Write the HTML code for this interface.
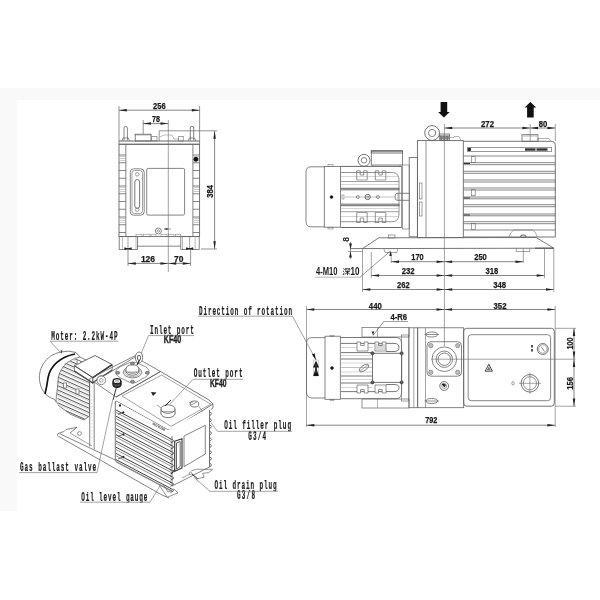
<!DOCTYPE html>
<html><head><meta charset="utf-8"><style>
html,body{margin:0;padding:0;background:#fff;width:600px;height:600px;overflow:hidden}
svg{display:block;will-change:transform}
</style></head><body>
<svg width="600" height="600" viewBox="0 0 600 600">
<rect x="0" y="88" width="600" height="12" fill="#f9f9f9"/>
<rect x="0" y="88" width="17" height="423" fill="#f9f9f9"/>
<line x1="119.00" y1="106.00" x2="119.00" y2="141.00" stroke="#666" stroke-width="0.7" />
<line x1="199.60" y1="106.00" x2="199.60" y2="141.00" stroke="#666" stroke-width="0.7" />
<line x1="119.00" y1="110.20" x2="199.60" y2="110.20" stroke="#666" stroke-width="0.8" />
<polygon points="119.00,110.20 126.80,108.95 126.80,111.45" fill="#222" stroke="none"/>
<polygon points="199.60,110.20 191.80,108.95 191.80,111.45" fill="#222" stroke="none"/>
<text x="159.40" y="109.00" font-family="Liberation Sans" font-size="9.3" fill="#1a1a1a" text-anchor="middle" textLength="12.6" lengthAdjust="spacingAndGlyphs" font-weight="bold" stroke="#1a1a1a" stroke-width="0.25" >256</text>
<line x1="143.20" y1="120.00" x2="143.20" y2="134.00" stroke="#666" stroke-width="0.7" />
<line x1="168.30" y1="120.00" x2="168.30" y2="272.00" stroke="#666" stroke-width="0.6" />
<line x1="143.20" y1="123.60" x2="168.30" y2="123.60" stroke="#666" stroke-width="0.8" />
<polygon points="143.20,123.60 151.00,122.35 151.00,124.85" fill="#222" stroke="none"/>
<polygon points="168.30,123.60 160.50,122.35 160.50,124.85" fill="#222" stroke="none"/>
<text x="156.00" y="122.40" font-family="Liberation Sans" font-size="9.3" fill="#1a1a1a" text-anchor="middle" textLength="8" lengthAdjust="spacingAndGlyphs" font-weight="bold" stroke="#1a1a1a" stroke-width="0.25" >78</text>
<line x1="201.00" y1="249.00" x2="217.00" y2="249.00" stroke="#666" stroke-width="0.7" />
<line x1="214.60" y1="131.00" x2="214.60" y2="249.00" stroke="#666" stroke-width="0.8" />
<polygon points="214.60,131.00 213.35,138.80 215.85,138.80" fill="#222" stroke="none"/>
<polygon points="214.60,249.00 213.35,241.20 215.85,241.20" fill="#222" stroke="none"/>
<text x="213.40" y="191.40" font-family="Liberation Sans" font-size="9.3" fill="#1a1a1a" text-anchor="middle" textLength="12.8" lengthAdjust="spacingAndGlyphs" font-weight="bold" stroke="#1a1a1a" stroke-width="0.25" transform="rotate(-90 213.40 191.40)">384</text>
<path d="M124.0,140.5 L124.0,128 A1.7,1.7 0 0 1 127.4,128 L127.4,140.5" fill="none" stroke="#666" stroke-width="0.8"/>
<polyline points="121.90,141.00 123.10,138.00 128.30,138.00 129.50,141.00" fill="none" stroke="#666" stroke-width="0.7"/>
<path d="M190.3,140.5 L190.3,128 A1.7,1.7 0 0 1 193.7,128 L193.7,140.5" fill="none" stroke="#666" stroke-width="0.8"/>
<polyline points="188.20,141.00 189.40,138.00 194.60,138.00 195.80,141.00" fill="none" stroke="#666" stroke-width="0.7"/>
<rect x="135.20" y="134.20" width="15.80" height="6.80" rx="0" fill="none" stroke="#666" stroke-width="0.8"/>
<line x1="134.50" y1="134.90" x2="151.70" y2="134.90" stroke="#666" stroke-width="0.6" />
<rect x="151.70" y="136.50" width="5.30" height="4.50" rx="0" fill="none" stroke="#666" stroke-width="0.6"/>
<line x1="159.20" y1="141.00" x2="159.20" y2="130.80" stroke="#666" stroke-width="0.7" />
<line x1="159.20" y1="130.80" x2="217.00" y2="130.80" stroke="#666" stroke-width="0.7" />
<polyline points="160.00,137.00 164.00,135.00 172.00,135.00 174.00,139.00 178.70,139.00" fill="none" stroke="#777" stroke-width="0.5"/>
<rect x="178.70" y="136.50" width="4.50" height="4.50" rx="0" fill="none" stroke="#666" stroke-width="0.6"/>
<line x1="119.00" y1="141.00" x2="199.60" y2="141.00" stroke="#666" stroke-width="1.1" />
<line x1="119.00" y1="144.20" x2="199.60" y2="144.20" stroke="#555" stroke-width="0.8" />
<line x1="119.00" y1="141.00" x2="119.00" y2="144.20" stroke="#666" stroke-width="0.8" />
<line x1="199.60" y1="141.00" x2="199.60" y2="144.20" stroke="#666" stroke-width="0.8" />
<rect x="119.00" y="144.30" width="80.60" height="92.30" rx="0" fill="none" stroke="#666" stroke-width="0.9"/>
<line x1="125.80" y1="144.30" x2="125.80" y2="236.60" stroke="#666" stroke-width="0.8" />
<line x1="192.90" y1="144.30" x2="192.90" y2="236.60" stroke="#666" stroke-width="0.8" />
<line x1="119.00" y1="155.00" x2="125.80" y2="155.00" stroke="#666" stroke-width="0.8" />
<line x1="192.90" y1="155.00" x2="199.60" y2="155.00" stroke="#666" stroke-width="0.8" />
<line x1="119.00" y1="162.75" x2="125.80" y2="162.75" stroke="#666" stroke-width="0.8" />
<line x1="192.90" y1="162.75" x2="199.60" y2="162.75" stroke="#666" stroke-width="0.8" />
<line x1="119.00" y1="170.50" x2="125.80" y2="170.50" stroke="#666" stroke-width="0.8" />
<line x1="192.90" y1="170.50" x2="199.60" y2="170.50" stroke="#666" stroke-width="0.8" />
<line x1="119.00" y1="178.25" x2="125.80" y2="178.25" stroke="#666" stroke-width="0.8" />
<line x1="192.90" y1="178.25" x2="199.60" y2="178.25" stroke="#666" stroke-width="0.8" />
<line x1="119.00" y1="186.00" x2="125.80" y2="186.00" stroke="#666" stroke-width="0.8" />
<line x1="192.90" y1="186.00" x2="199.60" y2="186.00" stroke="#666" stroke-width="0.8" />
<line x1="119.00" y1="193.75" x2="125.80" y2="193.75" stroke="#666" stroke-width="0.8" />
<line x1="192.90" y1="193.75" x2="199.60" y2="193.75" stroke="#666" stroke-width="0.8" />
<line x1="119.00" y1="201.50" x2="125.80" y2="201.50" stroke="#666" stroke-width="0.8" />
<line x1="192.90" y1="201.50" x2="199.60" y2="201.50" stroke="#666" stroke-width="0.8" />
<line x1="119.00" y1="209.25" x2="125.80" y2="209.25" stroke="#666" stroke-width="0.8" />
<line x1="192.90" y1="209.25" x2="199.60" y2="209.25" stroke="#666" stroke-width="0.8" />
<line x1="119.00" y1="217.00" x2="125.80" y2="217.00" stroke="#666" stroke-width="0.8" />
<line x1="192.90" y1="217.00" x2="199.60" y2="217.00" stroke="#666" stroke-width="0.8" />
<line x1="119.00" y1="224.75" x2="125.80" y2="224.75" stroke="#666" stroke-width="0.8" />
<line x1="192.90" y1="224.75" x2="199.60" y2="224.75" stroke="#666" stroke-width="0.8" />
<line x1="119.00" y1="232.50" x2="125.80" y2="232.50" stroke="#666" stroke-width="0.8" />
<line x1="192.90" y1="232.50" x2="199.60" y2="232.50" stroke="#666" stroke-width="0.8" />
<line x1="120.00" y1="156.50" x2="125.00" y2="156.50" stroke="#999" stroke-width="0.5" />
<line x1="194.00" y1="156.50" x2="199.00" y2="156.50" stroke="#999" stroke-width="0.5" />
<line x1="120.00" y1="158.50" x2="125.00" y2="158.50" stroke="#999" stroke-width="0.5" />
<line x1="194.00" y1="158.50" x2="199.00" y2="158.50" stroke="#999" stroke-width="0.5" />
<line x1="120.00" y1="160.50" x2="125.00" y2="160.50" stroke="#999" stroke-width="0.5" />
<line x1="194.00" y1="160.50" x2="199.00" y2="160.50" stroke="#999" stroke-width="0.5" />
<line x1="120.00" y1="187.50" x2="125.00" y2="187.50" stroke="#999" stroke-width="0.5" />
<line x1="194.00" y1="187.50" x2="199.00" y2="187.50" stroke="#999" stroke-width="0.5" />
<line x1="120.00" y1="189.50" x2="125.00" y2="189.50" stroke="#999" stroke-width="0.5" />
<line x1="194.00" y1="189.50" x2="199.00" y2="189.50" stroke="#999" stroke-width="0.5" />
<line x1="120.00" y1="191.50" x2="125.00" y2="191.50" stroke="#999" stroke-width="0.5" />
<line x1="194.00" y1="191.50" x2="199.00" y2="191.50" stroke="#999" stroke-width="0.5" />
<line x1="120.00" y1="218.50" x2="125.00" y2="218.50" stroke="#999" stroke-width="0.5" />
<line x1="194.00" y1="218.50" x2="199.00" y2="218.50" stroke="#999" stroke-width="0.5" />
<line x1="120.00" y1="220.50" x2="125.00" y2="220.50" stroke="#999" stroke-width="0.5" />
<line x1="194.00" y1="220.50" x2="199.00" y2="220.50" stroke="#999" stroke-width="0.5" />
<line x1="120.00" y1="222.50" x2="125.00" y2="222.50" stroke="#999" stroke-width="0.5" />
<line x1="194.00" y1="222.50" x2="199.00" y2="222.50" stroke="#999" stroke-width="0.5" />
<circle cx="195.90" cy="159.30" r="2.20" fill="#111" stroke="#111" stroke-width="0.5"/>
<rect x="130.30" y="168.80" width="13.90" height="46.40" rx="3.5" fill="none" stroke="#666" stroke-width="0.8"/>
<rect x="132.00" y="170.50" width="10.50" height="43.00" rx="2.8" fill="none" stroke="#666" stroke-width="0.6"/>
<circle cx="137.20" cy="174.30" r="1.80" fill="none" stroke="#666" stroke-width="0.6"/>
<circle cx="137.20" cy="209.70" r="1.80" fill="none" stroke="#666" stroke-width="0.6"/>
<path d="M134.8,196 L134.8,182 A2.4,2.4 0 0 1 139.6,182 L139.6,206 A2.4,2.4 0 0 1 134.8,206 Z" fill="none" stroke="#666" stroke-width="0.9"/>
<rect x="146.70" y="168.40" width="37.90" height="46.70" rx="1.5" fill="none" stroke="#666" stroke-width="0.8"/>
<circle cx="158.40" cy="231.00" r="3.00" fill="none" stroke="#666" stroke-width="0.8"/>
<circle cx="158.40" cy="231.00" r="1.20" fill="none" stroke="#666" stroke-width="0.6"/>
<line x1="164.00" y1="229.00" x2="171.00" y2="229.00" stroke="#666" stroke-width="0.6" />
<polygon points="164.00,229.00 167.50,227.90 167.50,230.10" fill="#222" stroke="none"/>
<rect x="136.00" y="234.20" width="6.00" height="2.40" rx="0" fill="none" stroke="#777" stroke-width="0.5"/>
<rect x="143.50" y="234.20" width="6.50" height="2.40" rx="0" fill="none" stroke="#777" stroke-width="0.5"/>
<rect x="151.00" y="234.20" width="5.00" height="2.40" rx="0" fill="none" stroke="#777" stroke-width="0.5"/>
<rect x="161.00" y="234.20" width="6.00" height="2.40" rx="0" fill="none" stroke="#777" stroke-width="0.5"/>
<rect x="168.50" y="234.20" width="5.50" height="2.40" rx="0" fill="none" stroke="#777" stroke-width="0.5"/>
<rect x="175.50" y="234.20" width="5.30" height="2.40" rx="0" fill="none" stroke="#777" stroke-width="0.5"/>
<rect x="119.20" y="236.60" width="18.40" height="12.80" rx="0" fill="none" stroke="#666" stroke-width="0.8"/>
<rect x="180.80" y="236.60" width="18.40" height="12.80" rx="0" fill="none" stroke="#666" stroke-width="0.8"/>
<line x1="137.60" y1="246.20" x2="180.80" y2="246.20" stroke="#666" stroke-width="0.8" />
<line x1="122.40" y1="236.60" x2="122.40" y2="249.40" stroke="#777" stroke-width="0.5" />
<line x1="136.00" y1="236.60" x2="136.00" y2="249.40" stroke="#777" stroke-width="0.5" />
<line x1="182.50" y1="236.60" x2="182.50" y2="249.40" stroke="#777" stroke-width="0.5" />
<line x1="195.20" y1="236.60" x2="195.20" y2="249.40" stroke="#777" stroke-width="0.5" />
<line x1="128.00" y1="236.60" x2="128.00" y2="249.40" stroke="#666" stroke-width="0.6" />
<line x1="189.60" y1="236.60" x2="189.60" y2="249.40" stroke="#666" stroke-width="0.6" />
<polygon points="128.00,248.60 124.50,247.30 124.50,249.90" fill="#222" stroke="none"/>
<polygon points="128.00,248.60 131.50,247.30 131.50,249.90" fill="#222" stroke="none"/>
<line x1="124.50" y1="248.60" x2="131.50" y2="248.60" stroke="#222" stroke-width="1.0" />
<line x1="186.00" y1="248.60" x2="193.20" y2="248.60" stroke="#222" stroke-width="1.0" />
<polygon points="189.60,248.60 186.10,247.30 186.10,249.90" fill="#222" stroke="none"/>
<polygon points="189.60,248.60 193.10,247.30 193.10,249.90" fill="#222" stroke="none"/>
<line x1="128.00" y1="249.40" x2="128.00" y2="266.00" stroke="#666" stroke-width="0.7" />
<line x1="190.60" y1="249.40" x2="190.60" y2="266.00" stroke="#666" stroke-width="0.7" />
<line x1="128.00" y1="263.40" x2="168.30" y2="263.40" stroke="#666" stroke-width="0.8" />
<polygon points="128.00,263.40 135.80,262.15 135.80,264.65" fill="#222" stroke="none"/>
<polygon points="168.30,263.40 160.50,262.15 160.50,264.65" fill="#222" stroke="none"/>
<line x1="168.30" y1="263.40" x2="190.60" y2="263.40" stroke="#666" stroke-width="0.8" />
<polygon points="168.30,263.40 176.10,262.15 176.10,264.65" fill="#222" stroke="none"/>
<polygon points="190.60,263.40 182.80,262.15 182.80,264.65" fill="#222" stroke="none"/>
<text x="148.00" y="262.20" font-family="Liberation Sans" font-size="9.3" fill="#1a1a1a" text-anchor="middle" textLength="14.2" lengthAdjust="spacingAndGlyphs" font-weight="bold" stroke="#1a1a1a" stroke-width="0.25" >126</text>
<text x="178.70" y="262.20" font-family="Liberation Sans" font-size="9.3" fill="#1a1a1a" text-anchor="middle" textLength="9.4" lengthAdjust="spacingAndGlyphs" font-weight="bold" stroke="#1a1a1a" stroke-width="0.25" >70</text>
<polygon points="440.60,102.00 447.20,102.00 447.20,112.00 449.70,112.00 443.90,117.50 438.10,112.00 440.60,112.00" fill="#111" stroke="none"/>
<polygon points="527.10,117.50 533.70,117.50 533.70,107.50 536.20,107.50 530.40,102.00 524.60,107.50 527.10,107.50" fill="#111" stroke="none"/>
<line x1="444.40" y1="124.00" x2="444.40" y2="346.00" stroke="#666" stroke-width="0.6" />
<line x1="555.30" y1="124.00" x2="555.30" y2="141.00" stroke="#666" stroke-width="0.6" />
<line x1="530.20" y1="124.00" x2="530.20" y2="141.00" stroke="#666" stroke-width="0.6" />
<line x1="444.40" y1="128.00" x2="530.20" y2="128.00" stroke="#666" stroke-width="0.8" />
<polygon points="444.40,128.00 452.20,126.75 452.20,129.25" fill="#222" stroke="none"/>
<polygon points="530.20,128.00 522.40,126.75 522.40,129.25" fill="#222" stroke="none"/>
<line x1="530.20" y1="128.00" x2="555.30" y2="128.00" stroke="#666" stroke-width="0.8" />
<polygon points="530.20,128.00 538.00,126.75 538.00,129.25" fill="#222" stroke="none"/>
<polygon points="555.30,128.00 547.50,126.75 547.50,129.25" fill="#222" stroke="none"/>
<text x="487.50" y="126.80" font-family="Liberation Sans" font-size="9.3" fill="#1a1a1a" text-anchor="middle" textLength="13" lengthAdjust="spacingAndGlyphs" font-weight="bold" stroke="#1a1a1a" stroke-width="0.25" >272</text>
<text x="543.00" y="126.90" font-family="Liberation Sans" font-size="9.3" fill="#1a1a1a" text-anchor="middle" textLength="8.6" lengthAdjust="spacingAndGlyphs" font-weight="bold" stroke="#1a1a1a" stroke-width="0.25" >80</text>
<path d="M324.3,166.8 L311,166.8 Q306,166.8 306,172 L306,221.6 Q306,226.8 311,226.8 L324.3,226.8" fill="none" stroke="#666" stroke-width="0.8"/>
<rect x="324.30" y="166.40" width="16.20" height="60.80" rx="0" fill="none" stroke="#666" stroke-width="0.8"/>
<circle cx="331.50" cy="197.00" r="1.50" fill="#111" stroke="#111" stroke-width="0.4"/>
<rect x="328.00" y="164.60" width="5.00" height="1.80" rx="0" fill="none" stroke="#666" stroke-width="0.5"/>
<rect x="328.00" y="227.20" width="5.00" height="1.80" rx="0" fill="none" stroke="#666" stroke-width="0.5"/>
<line x1="340.50" y1="166.40" x2="401.70" y2="166.40" stroke="#666" stroke-width="1.0" />
<line x1="340.50" y1="227.50" x2="401.70" y2="227.50" stroke="#666" stroke-width="1.0" />
<line x1="401.70" y1="166.40" x2="401.70" y2="227.50" stroke="#666" stroke-width="0.8" />
<path d="M341,172.5 L392,172.5 Q399,172.5 399,180 L399,214 Q399,221.7 392,221.7 L341,221.7" fill="none" stroke="#666" stroke-width="0.7"/>
<line x1="341.00" y1="181.50" x2="399.00" y2="181.50" stroke="#777" stroke-width="0.7" />
<line x1="341.00" y1="211.70" x2="399.00" y2="211.70" stroke="#777" stroke-width="0.7" />
<line x1="341.00" y1="188.30" x2="399.50" y2="188.30" stroke="#555" stroke-width="0.9" />
<line x1="341.00" y1="189.80" x2="399.50" y2="189.80" stroke="#555" stroke-width="0.9" />
<line x1="341.00" y1="204.20" x2="399.50" y2="204.20" stroke="#555" stroke-width="0.9" />
<line x1="341.00" y1="205.70" x2="399.50" y2="205.70" stroke="#555" stroke-width="0.9" />
<line x1="341.00" y1="176.50" x2="399.00" y2="176.50" stroke="#aaa" stroke-width="0.5" />
<line x1="341.00" y1="184.50" x2="399.00" y2="184.50" stroke="#aaa" stroke-width="0.5" />
<line x1="341.00" y1="208.50" x2="399.00" y2="208.50" stroke="#aaa" stroke-width="0.5" />
<line x1="341.00" y1="216.50" x2="399.00" y2="216.50" stroke="#aaa" stroke-width="0.5" />
<path d="M356.7,180 L356.7,170.8 L360.2,170.8 L360.2,175 L363.7,175 L363.7,170.8 L367.2,170.8 L367.2,180" fill="none" stroke="#666" stroke-width="0.7"/>
<path d="M356.7,212.5 L356.7,222.5 L360.2,222.5 L360.2,218 L363.7,218 L363.7,222.5 L367.2,222.5 L367.2,212.5" fill="none" stroke="#666" stroke-width="0.7"/>
<line x1="356.70" y1="180.00" x2="367.20" y2="180.00" stroke="#666" stroke-width="0.6" />
<line x1="356.70" y1="212.50" x2="367.20" y2="212.50" stroke="#666" stroke-width="0.6" />
<path d="M375.3,180 L375.3,170.8 L378.8,170.8 L378.8,175 L382.3,175 L382.3,170.8 L385.8,170.8 L385.8,180" fill="none" stroke="#666" stroke-width="0.7"/>
<path d="M375.3,212.5 L375.3,222.5 L378.8,222.5 L378.8,218 L382.3,218 L382.3,222.5 L385.8,222.5 L385.8,212.5" fill="none" stroke="#666" stroke-width="0.7"/>
<line x1="375.30" y1="180.00" x2="385.80" y2="180.00" stroke="#666" stroke-width="0.6" />
<line x1="375.30" y1="212.50" x2="385.80" y2="212.50" stroke="#666" stroke-width="0.6" />
<line x1="345.00" y1="197.00" x2="395.00" y2="197.00" stroke="#999" stroke-width="0.6" />
<circle cx="357.80" cy="197.00" r="1.50" fill="none" stroke="#666" stroke-width="0.7"/>
<circle cx="367.70" cy="197.00" r="2.60" fill="none" stroke="#666" stroke-width="1.0"/>
<circle cx="377.90" cy="197.00" r="1.50" fill="none" stroke="#666" stroke-width="0.7"/>
<circle cx="367.70" cy="197.00" r="1.00" fill="none" stroke="#666" stroke-width="0.5"/>
<rect x="342.00" y="195.00" width="2.00" height="4.00" rx="0" fill="none" stroke="#666" stroke-width="0.5"/>
<circle cx="364.00" cy="160.30" r="6.00" fill="none" stroke="#666" stroke-width="0.9"/>
<circle cx="364.00" cy="160.30" r="2.80" fill="none" stroke="#666" stroke-width="0.8"/>
<rect x="371.30" y="151.30" width="31.20" height="13.70" rx="0" fill="none" stroke="#666" stroke-width="0.8"/>
<rect x="371.30" y="150.60" width="31.20" height="2.40" rx="0" fill="none" stroke="#666" stroke-width="0.9"/>
<line x1="373.00" y1="165.00" x2="373.00" y2="166.40" stroke="#666" stroke-width="0.6" />
<line x1="400.00" y1="165.00" x2="400.00" y2="166.40" stroke="#666" stroke-width="0.6" />
<path d="M409,193.3 L397,193.3 Q395,193.3 395,196.8 Q395,200.3 397,200.3 L409,200.3" fill="none" stroke="#666" stroke-width="0.8"/>
<line x1="398.00" y1="193.30" x2="398.00" y2="200.30" stroke="#666" stroke-width="0.5" />
<rect x="402.50" y="165.00" width="6.70" height="64.00" rx="0" fill="none" stroke="#666" stroke-width="0.6"/>
<rect x="409.20" y="157.50" width="8.20" height="79.30" rx="0" fill="none" stroke="#666" stroke-width="0.8"/>
<rect x="417.40" y="140.60" width="45.90" height="97.00" rx="0" fill="none" stroke="#666" stroke-width="0.9"/>
<line x1="426.00" y1="140.60" x2="426.00" y2="237.60" stroke="#666" stroke-width="0.7" />
<rect x="419.50" y="183.00" width="2.50" height="16.00" rx="0" fill="none" stroke="#666" stroke-width="0.6"/>
<rect x="419.50" y="202.00" width="2.50" height="14.00" rx="0" fill="none" stroke="#666" stroke-width="0.6"/>
<circle cx="432.10" cy="133.00" r="7.40" fill="none" stroke="#666" stroke-width="0.9"/>
<circle cx="432.10" cy="133.00" r="3.60" fill="none" stroke="#666" stroke-width="0.8"/>
<rect x="439.70" y="134.00" width="9.70" height="6.60" rx="0" fill="none" stroke="#666" stroke-width="0.8"/>
<line x1="439.70" y1="136.00" x2="449.40" y2="136.00" stroke="#333" stroke-width="0.8" />
<rect x="440.70" y="136.80" width="1.60" height="2.70" rx="0" fill="#777" stroke="#444" stroke-width="0.5"/>
<rect x="443.70" y="136.80" width="1.60" height="2.70" rx="0" fill="#777" stroke="#444" stroke-width="0.5"/>
<rect x="446.70" y="136.80" width="1.60" height="2.70" rx="0" fill="#777" stroke="#444" stroke-width="0.5"/>
<polyline points="450.00,137.50 454.00,137.50 454.00,136.50 459.00,136.50 461.00,140.60" fill="none" stroke="#666" stroke-width="0.5"/>
<path d="M463.3,141.3 L550.8,141.3 Q555.3,141.3 555.3,145.5 L555.3,237 L463.3,237" fill="none" stroke="#666" stroke-width="0.9"/>
<rect x="467.50" y="147.70" width="84.20" height="3.60" rx="0" fill="none" stroke="#555" stroke-width="0.6"/>
<rect x="467.8" y="148" width="3" height="3" fill="#222"/>
<rect x="525" y="148.3" width="10.5" height="2.4" fill="#333"/><rect x="536.5" y="148.3" width="11" height="2.4" fill="#333"/>
<line x1="463.70" y1="156.00" x2="555.30" y2="156.00" stroke="#555" stroke-width="0.7" />
<line x1="463.70" y1="162.70" x2="555.30" y2="162.70" stroke="#555" stroke-width="0.7" />
<line x1="463.70" y1="164.70" x2="555.30" y2="164.70" stroke="#555" stroke-width="0.7" />
<line x1="463.70" y1="171.30" x2="555.30" y2="171.30" stroke="#555" stroke-width="0.7" />
<line x1="463.70" y1="173.30" x2="555.30" y2="173.30" stroke="#555" stroke-width="0.7" />
<line x1="463.70" y1="180.00" x2="555.30" y2="180.00" stroke="#555" stroke-width="0.7" />
<line x1="463.70" y1="182.00" x2="555.30" y2="182.00" stroke="#555" stroke-width="0.7" />
<line x1="463.70" y1="188.00" x2="555.30" y2="188.00" stroke="#555" stroke-width="0.7" />
<line x1="463.70" y1="190.00" x2="555.30" y2="190.00" stroke="#555" stroke-width="0.7" />
<line x1="463.70" y1="197.00" x2="555.30" y2="197.00" stroke="#555" stroke-width="0.7" />
<line x1="463.70" y1="198.80" x2="555.30" y2="198.80" stroke="#555" stroke-width="0.7" />
<line x1="463.70" y1="204.70" x2="555.30" y2="204.70" stroke="#555" stroke-width="0.7" />
<line x1="463.70" y1="206.70" x2="555.30" y2="206.70" stroke="#555" stroke-width="0.7" />
<line x1="463.70" y1="214.00" x2="555.30" y2="214.00" stroke="#555" stroke-width="0.7" />
<line x1="463.70" y1="215.80" x2="555.30" y2="215.80" stroke="#555" stroke-width="0.7" />
<line x1="463.70" y1="221.70" x2="555.30" y2="221.70" stroke="#555" stroke-width="0.7" />
<line x1="463.70" y1="223.70" x2="555.30" y2="223.70" stroke="#555" stroke-width="0.7" />
<line x1="463.70" y1="230.00" x2="555.30" y2="230.00" stroke="#555" stroke-width="0.7" />
<rect x="471.50" y="156.70" width="3.70" height="6.00" rx="0" fill="none" stroke="#666" stroke-width="0.6"/>
<rect x="471.50" y="189.70" width="3.70" height="6.00" rx="0" fill="none" stroke="#666" stroke-width="0.6"/>
<rect x="471.50" y="223.50" width="3.70" height="6.00" rx="0" fill="none" stroke="#666" stroke-width="0.6"/>
<line x1="463.70" y1="163.50" x2="470.00" y2="163.50" stroke="#333" stroke-width="1.0" />
<line x1="463.70" y1="198.00" x2="470.00" y2="198.00" stroke="#333" stroke-width="1.0" />
<line x1="463.70" y1="215.00" x2="470.00" y2="215.00" stroke="#333" stroke-width="1.0" />
<rect x="522.00" y="134.70" width="16.00" height="6.60" rx="0" fill="none" stroke="#666" stroke-width="0.8"/>
<line x1="523.00" y1="136.00" x2="537.00" y2="136.00" stroke="#666" stroke-width="0.5" />
<polyline points="538.00,141.30 538.00,138.50 549.00,138.50 551.00,141.30" fill="none" stroke="#666" stroke-width="0.5"/>
<path d="M508.8,237 Q511,231 514,230 L532.7,230 Q535.5,231 537.3,237" fill="none" stroke="#888" stroke-width="0.7"/>
<ellipse cx="523.30" cy="236.30" rx="2.80" ry="1.30" fill="none" stroke="#444" stroke-width="0.9" transform="rotate(0 523.30 236.30)"/>
<polyline points="362.50,248.60 378.80,237.80 536.20,237.50 553.80,248.20" fill="none" stroke="#666" stroke-width="0.9"/>
<line x1="350.00" y1="248.60" x2="553.80" y2="248.20" stroke="#666" stroke-width="0.9" />
<line x1="535.00" y1="248.20" x2="553.80" y2="248.20" stroke="#555" stroke-width="1.1" />
<polyline points="516.30,248.40 516.30,251.50 529.80,251.50 529.80,248.40" fill="none" stroke="#666" stroke-width="0.6"/>
<line x1="523.30" y1="248.40" x2="523.30" y2="263.00" stroke="#666" stroke-width="0.6" />
<polyline points="384.00,249.00 385.00,252.50 397.00,252.50 397.50,249.00" fill="none" stroke="#666" stroke-width="0.6"/>
<rect x="388.30" y="235.00" width="6.70" height="3.00" rx="0" fill="none" stroke="#666" stroke-width="0.6"/>
<line x1="391.20" y1="252.00" x2="391.20" y2="263.00" stroke="#666" stroke-width="0.6" />
<line x1="350.50" y1="242.00" x2="350.50" y2="259.00" stroke="#666" stroke-width="0.7" />
<polygon points="350.50,249.50 349.10,243.50 351.90,243.50" fill="#222" stroke="none"/>
<polygon points="350.50,251.50 349.10,257.50 351.90,257.50" fill="#222" stroke="none"/>
<line x1="348.00" y1="251.50" x2="362.50" y2="251.50" stroke="#666" stroke-width="0.6" />
<text x="0" y="0" font-family="Liberation Sans" font-size="8.5" font-weight="bold" fill="#1a1a1a" text-anchor="middle" transform="translate(349.2,239.3) rotate(-90)">8</text>
<text x="316" y="275.2" font-family="Liberation Sans" font-weight="bold" font-size="10" fill="#1a1a1a" textLength="21.5" lengthAdjust="spacingAndGlyphs">4-M10</text>
<text x="350.5" y="275.2" font-family="Liberation Sans" font-weight="bold" font-size="10" fill="#1a1a1a" textLength="9" lengthAdjust="spacingAndGlyphs">10</text>
<g stroke="#1a1a1a" stroke-width="0.9" fill="none"><path d="M343.3,268.6 L344.3,269.4 M343,271 L344,271.6 M343,275 L344.3,272.6 M345,268.8 L349.8,268.8 L349.8,270 M345,268.8 L345,270 M346.2,269.5 L345.6,270.8 M348.6,269.5 L349.2,270.8 M345.2,271.6 L349.8,271.6 M347.5,270.6 L347.5,275.2 M347.3,272.2 L345,274.6 M347.7,272.2 L350,274.6"/></g>
<line x1="315.00" y1="277.20" x2="360.00" y2="277.20" stroke="#888" stroke-width="0.6" />
<line x1="360.00" y1="277.20" x2="390.50" y2="251.00" stroke="#666" stroke-width="0.7" />
<polygon points="390.50,251.00 389.30,256.00 391.70,256.00" fill="#222" stroke="none"/>
<line x1="362.50" y1="249.00" x2="362.50" y2="292.00" stroke="#666" stroke-width="0.6" />
<line x1="371.30" y1="252.00" x2="371.30" y2="278.00" stroke="#666" stroke-width="0.6" />
<line x1="544.50" y1="248.50" x2="544.50" y2="278.00" stroke="#666" stroke-width="0.6" />
<line x1="553.80" y1="248.50" x2="553.80" y2="292.00" stroke="#666" stroke-width="0.6" />
<line x1="391.20" y1="261.70" x2="444.40" y2="261.70" stroke="#666" stroke-width="0.8" />
<polygon points="391.20,261.70 399.00,260.45 399.00,262.95" fill="#222" stroke="none"/>
<polygon points="444.40,261.70 436.60,260.45 436.60,262.95" fill="#222" stroke="none"/>
<line x1="444.40" y1="261.70" x2="523.30" y2="261.70" stroke="#666" stroke-width="0.8" />
<polygon points="444.40,261.70 452.20,260.45 452.20,262.95" fill="#222" stroke="none"/>
<polygon points="523.30,261.70 515.50,260.45 515.50,262.95" fill="#222" stroke="none"/>
<line x1="371.30" y1="275.50" x2="444.40" y2="275.50" stroke="#666" stroke-width="0.8" />
<polygon points="371.30,275.50 379.10,274.25 379.10,276.75" fill="#222" stroke="none"/>
<polygon points="444.40,275.50 436.60,274.25 436.60,276.75" fill="#222" stroke="none"/>
<line x1="444.40" y1="275.50" x2="544.50" y2="275.50" stroke="#666" stroke-width="0.8" />
<polygon points="444.40,275.50 452.20,274.25 452.20,276.75" fill="#222" stroke="none"/>
<polygon points="544.50,275.50 536.70,274.25 536.70,276.75" fill="#222" stroke="none"/>
<line x1="362.50" y1="289.50" x2="444.40" y2="289.50" stroke="#666" stroke-width="0.8" />
<polygon points="362.50,289.50 370.30,288.25 370.30,290.75" fill="#222" stroke="none"/>
<polygon points="444.40,289.50 436.60,288.25 436.60,290.75" fill="#222" stroke="none"/>
<line x1="444.40" y1="289.50" x2="553.80" y2="289.50" stroke="#666" stroke-width="0.8" />
<polygon points="444.40,289.50 452.20,288.25 452.20,290.75" fill="#222" stroke="none"/>
<polygon points="553.80,289.50 546.00,288.25 546.00,290.75" fill="#222" stroke="none"/>
<text x="417.50" y="260.10" font-family="Liberation Sans" font-size="9.3" fill="#1a1a1a" text-anchor="middle" textLength="12.4" lengthAdjust="spacingAndGlyphs" font-weight="bold" stroke="#1a1a1a" stroke-width="0.25" >170</text>
<text x="480.50" y="260.10" font-family="Liberation Sans" font-size="9.3" fill="#1a1a1a" text-anchor="middle" textLength="12.6" lengthAdjust="spacingAndGlyphs" font-weight="bold" stroke="#1a1a1a" stroke-width="0.25" >250</text>
<text x="408.10" y="274.30" font-family="Liberation Sans" font-size="9.3" fill="#1a1a1a" text-anchor="middle" textLength="12.8" lengthAdjust="spacingAndGlyphs" font-weight="bold" stroke="#1a1a1a" stroke-width="0.25" >232</text>
<text x="491.80" y="274.30" font-family="Liberation Sans" font-size="9.3" fill="#1a1a1a" text-anchor="middle" textLength="12.8" lengthAdjust="spacingAndGlyphs" font-weight="bold" stroke="#1a1a1a" stroke-width="0.25" >318</text>
<text x="403.30" y="287.90" font-family="Liberation Sans" font-size="9.3" fill="#1a1a1a" text-anchor="middle" textLength="12.6" lengthAdjust="spacingAndGlyphs" font-weight="bold" stroke="#1a1a1a" stroke-width="0.25" >262</text>
<text x="499.60" y="287.90" font-family="Liberation Sans" font-size="9.3" fill="#1a1a1a" text-anchor="middle" textLength="12.8" lengthAdjust="spacingAndGlyphs" font-weight="bold" stroke="#1a1a1a" stroke-width="0.25" >348</text>
<line x1="306.50" y1="306.00" x2="306.50" y2="427.00" stroke="#666" stroke-width="0.6" />
<line x1="555.20" y1="306.00" x2="555.20" y2="427.00" stroke="#666" stroke-width="0.6" />
<line x1="306.50" y1="309.50" x2="444.30" y2="309.50" stroke="#666" stroke-width="0.8" />
<polygon points="306.50,309.50 314.30,308.25 314.30,310.75" fill="#222" stroke="none"/>
<polygon points="444.30,309.50 436.50,308.25 436.50,310.75" fill="#222" stroke="none"/>
<line x1="444.30" y1="309.50" x2="555.20" y2="309.50" stroke="#666" stroke-width="0.8" />
<polygon points="444.30,309.50 452.10,308.25 452.10,310.75" fill="#222" stroke="none"/>
<polygon points="555.20,309.50 547.40,308.25 547.40,310.75" fill="#222" stroke="none"/>
<text x="375.30" y="308.50" font-family="Liberation Sans" font-size="9.3" fill="#1a1a1a" text-anchor="middle" textLength="13" lengthAdjust="spacingAndGlyphs" font-weight="bold" stroke="#1a1a1a" stroke-width="0.25" >440</text>
<text x="500.00" y="308.50" font-family="Liberation Sans" font-size="9.3" fill="#1a1a1a" text-anchor="middle" textLength="13" lengthAdjust="spacingAndGlyphs" font-weight="bold" stroke="#1a1a1a" stroke-width="0.25" >352</text>
<line x1="306.50" y1="425.20" x2="555.20" y2="425.20" stroke="#666" stroke-width="0.8" />
<polygon points="306.50,425.20 314.30,423.95 314.30,426.45" fill="#222" stroke="none"/>
<polygon points="555.20,425.20 547.40,423.95 547.40,426.45" fill="#222" stroke="none"/>
<text x="431.30" y="423.00" font-family="Liberation Sans" font-size="9.3" fill="#1a1a1a" text-anchor="middle" textLength="12.2" lengthAdjust="spacingAndGlyphs" font-weight="bold" stroke="#1a1a1a" stroke-width="0.25" >792</text>
<line x1="555.20" y1="328.30" x2="576.00" y2="328.30" stroke="#666" stroke-width="0.6" />
<line x1="555.20" y1="406.20" x2="576.00" y2="406.20" stroke="#666" stroke-width="0.6" />
<line x1="431.50" y1="359.20" x2="575.50" y2="359.20" stroke="#666" stroke-width="0.6" />
<line x1="574.00" y1="328.30" x2="574.00" y2="359.20" stroke="#666" stroke-width="0.8" />
<polygon points="574.00,328.30 572.75,336.10 575.25,336.10" fill="#222" stroke="none"/>
<polygon points="574.00,359.20 572.75,351.40 575.25,351.40" fill="#222" stroke="none"/>
<line x1="574.00" y1="359.20" x2="574.00" y2="406.20" stroke="#666" stroke-width="0.8" />
<polygon points="574.00,359.20 572.75,367.00 575.25,367.00" fill="#222" stroke="none"/>
<polygon points="574.00,406.20 572.75,398.40 575.25,398.40" fill="#222" stroke="none"/>
<text x="573.20" y="343.50" font-family="Liberation Sans" font-size="9.3" fill="#1a1a1a" text-anchor="middle" textLength="12.0" lengthAdjust="spacingAndGlyphs" font-weight="bold" stroke="#1a1a1a" stroke-width="0.25" transform="rotate(-90 573.20 343.50)">100</text>
<text x="573.20" y="383.30" font-family="Liberation Sans" font-size="9.3" fill="#1a1a1a" text-anchor="middle" textLength="12.8" lengthAdjust="spacingAndGlyphs" font-weight="bold" stroke="#1a1a1a" stroke-width="0.25" transform="rotate(-90 573.20 383.30)">156</text>
<text x="398.80" y="319.80" font-family="Liberation Sans" font-size="9.3" fill="#1a1a1a" text-anchor="middle" textLength="16.5" lengthAdjust="spacingAndGlyphs" font-weight="bold" stroke="#1a1a1a" stroke-width="0.25" >4-R6</text>
<line x1="383.80" y1="321.50" x2="408.00" y2="321.50" stroke="#666" stroke-width="0.6" />
<line x1="383.80" y1="321.50" x2="373.00" y2="335.50" stroke="#666" stroke-width="0.7" />
<polygon points="373.00,335.50 371.80,331.50 374.20,331.50" fill="#222" stroke="none"/>
<path d="M325.3,337.6 L312,337.6 Q306.5,337.6 306.5,343.5 L306.5,392 Q306.5,398 312,398 L325.3,398" fill="none" stroke="#666" stroke-width="0.8"/>
<rect x="330.00" y="335.20" width="4.00" height="1.10" rx="0" fill="none" stroke="#666" stroke-width="0.5"/>
<rect x="330.00" y="399.30" width="4.00" height="1.10" rx="0" fill="none" stroke="#666" stroke-width="0.5"/>
<rect x="325.00" y="336.20" width="15.30" height="63.10" rx="0" fill="none" stroke="#666" stroke-width="0.8"/>
<circle cx="332.00" cy="368.00" r="1.50" fill="#111" stroke="#111" stroke-width="0.4"/>
<rect x="313.30" y="360.00" width="5.50" height="16.00" rx="0" fill="none" stroke="#999" stroke-width="0.4"/>
<polygon points="316,360.5 319,367.5 317,367.5 317,370 318.8,376 313.3,376 315,370 315,367.5 313,367.5" fill="#111"/>
<line x1="316.00" y1="364.00" x2="316.00" y2="373.00" stroke="#888" stroke-width="0.6" />
<line x1="340.30" y1="337.50" x2="396.00" y2="337.50" stroke="#666" stroke-width="0.9" />
<line x1="340.30" y1="398.70" x2="396.00" y2="398.70" stroke="#666" stroke-width="0.9" />
<path d="M396,337.5 Q401.6,337.5 401.6,344 L401.6,392 Q401.6,398.7 396,398.7" fill="none" stroke="#666" stroke-width="0.8"/>
<path d="M341,343.4 L394,343.4 Q399,343.4 399,347.5 Q399,351.5 394,351.5 L386,351.5" fill="none" stroke="#555" stroke-width="0.8"/>
<path d="M341,391.6 L394,391.6 Q399,391.6 399,387.5 Q399,384.5 394,384.5 L386,384.5" fill="none" stroke="#555" stroke-width="0.8"/>
<line x1="341.00" y1="352.60" x2="372.50" y2="352.60" stroke="#666" stroke-width="0.9" />
<line x1="341.00" y1="359.00" x2="372.50" y2="359.00" stroke="#666" stroke-width="0.9" />
<line x1="341.00" y1="376.00" x2="372.50" y2="376.00" stroke="#666" stroke-width="0.9" />
<line x1="341.00" y1="383.00" x2="372.50" y2="383.00" stroke="#666" stroke-width="0.9" />
<line x1="341.00" y1="347.50" x2="372.50" y2="347.50" stroke="#aaa" stroke-width="0.5" />
<line x1="341.00" y1="355.50" x2="372.50" y2="355.50" stroke="#aaa" stroke-width="0.5" />
<line x1="341.00" y1="363.00" x2="372.50" y2="363.00" stroke="#aaa" stroke-width="0.5" />
<line x1="341.00" y1="372.00" x2="372.50" y2="372.00" stroke="#aaa" stroke-width="0.5" />
<line x1="341.00" y1="379.50" x2="372.50" y2="379.50" stroke="#aaa" stroke-width="0.5" />
<line x1="341.00" y1="387.50" x2="372.50" y2="387.50" stroke="#aaa" stroke-width="0.5" />
<line x1="341.00" y1="367.50" x2="372.50" y2="367.50" stroke="#999" stroke-width="0.6" />
<ellipse cx="364.00" cy="368.00" rx="5.50" ry="2.50" fill="none" stroke="#666" stroke-width="0.8" transform="rotate(-35 364.00 368.00)"/>
<line x1="360.00" y1="371.00" x2="368.00" y2="365.00" stroke="#666" stroke-width="0.6" />
<path d="M357,351 L357,342 L360.6,342 L360.6,345.5 L364.2,345.5 L364.2,342 L368,342 L368,351 Z" fill="#fff" stroke="#666" stroke-width="0.7"/>
<path d="M357,385 L357,393 L360.6,393 L360.6,389.5 L364.2,389.5 L364.2,393 L368,393 L368,385 Z" fill="#fff" stroke="#666" stroke-width="0.7"/>
<path d="M375,351 L375,342 L378.6,342 L378.6,345.5 L382.2,345.5 L382.2,342 L386,342 L386,351 Z" fill="#fff" stroke="#666" stroke-width="0.7"/>
<path d="M375,385 L375,393 L378.6,393 L378.6,389.5 L382.2,389.5 L382.2,393 L386,393 L386,385 Z" fill="#fff" stroke="#666" stroke-width="0.7"/>
<line x1="376.00" y1="345.00" x2="386.00" y2="345.00" stroke="#666" stroke-width="0.5" />
<line x1="376.00" y1="347.00" x2="386.00" y2="347.00" stroke="#666" stroke-width="0.5" />
<line x1="376.00" y1="349.00" x2="386.00" y2="349.00" stroke="#666" stroke-width="0.5" />
<rect x="372.50" y="353.30" width="29.10" height="29.10" rx="1.5" fill="none" stroke="#666" stroke-width="0.9"/>
<circle cx="372.50" cy="353.30" r="1.70" fill="#555" stroke="#333" stroke-width="0.4"/>
<circle cx="401.60" cy="353.30" r="1.70" fill="#555" stroke="#333" stroke-width="0.4"/>
<circle cx="372.50" cy="382.40" r="1.70" fill="#555" stroke="#333" stroke-width="0.4"/>
<circle cx="401.60" cy="382.40" r="1.70" fill="#555" stroke="#333" stroke-width="0.4"/>
<rect x="362.00" y="327.60" width="47.00" height="9.40" rx="0" fill="none" stroke="#666" stroke-width="0.7"/>
<rect x="362.00" y="399.00" width="47.00" height="9.00" rx="0" fill="none" stroke="#666" stroke-width="0.7"/>
<line x1="377.50" y1="327.60" x2="377.50" y2="337.00" stroke="#666" stroke-width="0.5" />
<line x1="377.50" y1="399.00" x2="377.50" y2="408.00" stroke="#666" stroke-width="0.5" />
<rect x="401.60" y="335.00" width="7.10" height="66.00" rx="0" fill="none" stroke="#666" stroke-width="0.6"/>
<rect x="409.00" y="327.80" width="8.70" height="79.90" rx="0" fill="none" stroke="#666" stroke-width="0.8"/>
<line x1="413.80" y1="327.80" x2="413.80" y2="407.70" stroke="#666" stroke-width="0.6" />
<rect x="417.70" y="327.80" width="46.00" height="79.90" rx="0" fill="none" stroke="#666" stroke-width="0.8"/>
<line x1="425.50" y1="327.80" x2="425.50" y2="407.70" stroke="#666" stroke-width="0.6" />
<path d="M426,334.5 Q426,332.0 431.7,332.0 Q437.5,332.0 437.5,334.5 Q437.5,337.0 431.7,337.0 Q426,337.0 426,334.5 Z" fill="none" stroke="#666" stroke-width="0.8"/>
<line x1="424.50" y1="334.50" x2="439.00" y2="334.50" stroke="#666" stroke-width="0.7" />
<path d="M426,401 Q426,398.5 431.7,398.5 Q437.5,398.5 437.5,401 Q437.5,403.5 431.7,403.5 Q426,403.5 426,401 Z" fill="none" stroke="#666" stroke-width="0.8"/>
<line x1="424.50" y1="401.00" x2="439.00" y2="401.00" stroke="#666" stroke-width="0.7" />
<rect x="427.00" y="341.70" width="34.50" height="34.50" rx="4" fill="none" stroke="#666" stroke-width="0.8"/>
<circle cx="430.80" cy="345.60" r="2.20" fill="#bbb" stroke="#777" stroke-width="0.6"/>
<circle cx="457.70" cy="345.60" r="2.20" fill="#bbb" stroke="#777" stroke-width="0.6"/>
<circle cx="430.80" cy="372.30" r="2.20" fill="#bbb" stroke="#777" stroke-width="0.6"/>
<circle cx="457.70" cy="372.30" r="2.20" fill="#bbb" stroke="#777" stroke-width="0.6"/>
<circle cx="444.30" cy="359.20" r="12.30" fill="none" stroke="#666" stroke-width="0.8"/>
<circle cx="444.30" cy="359.20" r="8.20" fill="none" stroke="#666" stroke-width="0.8"/>
<circle cx="444.30" cy="359.20" r="6.20" fill="none" stroke="#666" stroke-width="0.8"/>
<circle cx="444.20" cy="386.00" r="4.40" fill="none" stroke="#666" stroke-width="0.9"/>
<circle cx="444.20" cy="386.00" r="2.50" fill="none" stroke="#666" stroke-width="0.6"/>
<path d="M441.5,384 Q444,382.5 446,385 L444.5,387.5 Z" fill="#222"/>
<rect x="463.7" y="328.3" width="90.6" height="77.9" rx="3" fill="none" stroke="#666" stroke-width="0.9"/>
<rect x="468.2" y="334.7" width="82.4" height="66" rx="3" fill="none" stroke="#666" stroke-width="0.8"/>
<circle cx="542.80" cy="349.00" r="5.50" fill="none" stroke="#666" stroke-width="0.9"/>
<circle cx="542.80" cy="349.00" r="4.20" fill="none" stroke="#666" stroke-width="0.6"/>
<line x1="541.00" y1="346.50" x2="544.50" y2="351.50" stroke="#666" stroke-width="0.8" />
<rect x="531" y="345" width="2" height="2.5" fill="#555"/><rect x="531" y="349" width="2" height="2.5" fill="#555"/>
<circle cx="529.90" cy="383.30" r="8.80" fill="none" stroke="#666" stroke-width="0.9"/>
<circle cx="529.90" cy="383.30" r="6.60" fill="none" stroke="#666" stroke-width="0.7"/>
<line x1="519.00" y1="383.30" x2="541.00" y2="383.30" stroke="#666" stroke-width="0.6" />
<line x1="529.90" y1="372.50" x2="529.90" y2="394.00" stroke="#666" stroke-width="0.6" />
<ellipse cx="513.00" cy="383.30" rx="1.20" ry="1.80" fill="none" stroke="#666" stroke-width="0.6" transform="rotate(0 513.00 383.30)"/>
<polygon points="488.80,364.20 485.20,371.20 492.40,371.20" fill="none" stroke="#333" stroke-width="0.9"/>
<polygon points="488.8,366.2 486.8,370.2 490.8,370.2" fill="#777"/>
<clipPath id="lc1"><rect x="46.20" y="324.60" width="76.50" height="16.90"/></clipPath>
<g clip-path="url(#lc1)"><text transform="translate(51.20,339.60) scale(0.47,1)" x="0" y="0" font-family="Liberation Mono" font-weight="bold" font-size="12.8" fill="#1a1a1a" text-anchor="start" textLength="141.49" lengthAdjust="spacing" stroke="#1a1a1a" stroke-width="0.2">Moter: 2.2kW-4P</text></g>
<line x1="50.00" y1="341.20" x2="118.50" y2="341.20" stroke="#666" stroke-width="0.6" />
<line x1="50.00" y1="341.20" x2="61.50" y2="353.50" stroke="#666" stroke-width="0.6" />
<polygon points="61.50,353.50 60.50,350.50 62.50,350.50" fill="#222" stroke="none"/>
<clipPath id="lc2"><rect x="145.00" y="318.60" width="53.80" height="16.90"/></clipPath>
<g clip-path="url(#lc2)"><text transform="translate(150.00,333.60) scale(0.47,1)" x="0" y="0" font-family="Liberation Mono" font-weight="bold" font-size="12.8" fill="#1a1a1a" text-anchor="start" textLength="93.19" lengthAdjust="spacing" stroke="#1a1a1a" stroke-width="0.2">Inlet port</text></g>
<text x="163.8" y="343.2" font-family="Liberation Sans" font-weight="bold" font-size="10" fill="#1a1a1a" stroke="#1a1a1a" stroke-width="0.35" textLength="17.5" lengthAdjust="spacingAndGlyphs">KF40</text>
<line x1="148.50" y1="335.60" x2="194.00" y2="335.60" stroke="#666" stroke-width="0.6" />
<line x1="148.50" y1="335.60" x2="139.50" y2="357.50" stroke="#666" stroke-width="0.6" />
<clipPath id="lc3"><rect x="188.80" y="362.40" width="58.70" height="16.90"/></clipPath>
<g clip-path="url(#lc3)"><text transform="translate(193.80,377.40) scale(0.47,1)" x="0" y="0" font-family="Liberation Mono" font-weight="bold" font-size="12.8" fill="#1a1a1a" text-anchor="start" textLength="103.62" lengthAdjust="spacing" stroke="#1a1a1a" stroke-width="0.2">Outlet port</text></g>
<text x="210" y="387.2" font-family="Liberation Sans" font-weight="bold" font-size="10" fill="#1a1a1a" stroke="#1a1a1a" stroke-width="0.35" textLength="16.5" lengthAdjust="spacingAndGlyphs">KF40</text>
<line x1="193.00" y1="379.30" x2="243.00" y2="379.30" stroke="#666" stroke-width="0.6" />
<line x1="193.00" y1="379.30" x2="170.00" y2="404.00" stroke="#666" stroke-width="0.6" />
<clipPath id="lc4"><rect x="219.20" y="414.40" width="76.80" height="16.90"/></clipPath>
<g clip-path="url(#lc4)"><text transform="translate(224.20,429.40) scale(0.47,1)" x="0" y="0" font-family="Liberation Mono" font-weight="bold" font-size="12.8" fill="#1a1a1a" text-anchor="start" textLength="142.13" lengthAdjust="spacing" stroke="#1a1a1a" stroke-width="0.2">Oil filler plug</text></g>
<clipPath id="lc5"><rect x="243.20" y="424.50" width="28.00" height="16.90"/></clipPath>
<g clip-path="url(#lc5)"><text transform="translate(248.20,439.50) scale(0.47,1)" x="0" y="0" font-family="Liberation Mono" font-weight="bold" font-size="12.8" fill="#1a1a1a" text-anchor="start" textLength="38.30" lengthAdjust="spacing" stroke="#1a1a1a" stroke-width="0.2">G3/4</text></g>
<line x1="217.50" y1="431.30" x2="292.00" y2="431.30" stroke="#666" stroke-width="0.6" />
<line x1="217.50" y1="431.30" x2="198.70" y2="406.20" stroke="#666" stroke-width="0.6" />
<clipPath id="lc6"><rect x="209.50" y="474.00" width="72.20" height="16.90"/></clipPath>
<g clip-path="url(#lc6)"><text transform="translate(214.50,489.00) scale(0.47,1)" x="0" y="0" font-family="Liberation Mono" font-weight="bold" font-size="12.8" fill="#1a1a1a" text-anchor="start" textLength="132.34" lengthAdjust="spacing" stroke="#1a1a1a" stroke-width="0.2">Oil drain plug</text></g>
<clipPath id="lc7"><rect x="232.00" y="484.40" width="28.00" height="16.90"/></clipPath>
<g clip-path="url(#lc7)"><text transform="translate(237.00,499.40) scale(0.47,1)" x="0" y="0" font-family="Liberation Mono" font-weight="bold" font-size="12.8" fill="#1a1a1a" text-anchor="start" textLength="38.30" lengthAdjust="spacing" stroke="#1a1a1a" stroke-width="0.2">G3/8</text></g>
<line x1="210.00" y1="491.30" x2="278.00" y2="491.30" stroke="#666" stroke-width="0.6" />
<line x1="210.00" y1="491.30" x2="191.20" y2="475.00" stroke="#666" stroke-width="0.6" />
<clipPath id="lc8"><rect x="15.00" y="456.30" width="86.20" height="16.90"/></clipPath>
<g clip-path="url(#lc8)"><text transform="translate(20.00,471.30) scale(0.47,1)" x="0" y="0" font-family="Liberation Mono" font-weight="bold" font-size="12.8" fill="#1a1a1a" text-anchor="start" textLength="162.13" lengthAdjust="spacing" stroke="#1a1a1a" stroke-width="0.2">Gas ballast valve</text></g>
<line x1="19.00" y1="472.60" x2="97.00" y2="472.60" stroke="#666" stroke-width="0.6" />
<line x1="97.00" y1="472.60" x2="112.70" y2="400.00" stroke="#666" stroke-width="0.6" />
<clipPath id="lc9"><rect x="76.20" y="485.50" width="76.20" height="16.90"/></clipPath>
<g clip-path="url(#lc9)"><text transform="translate(81.20,500.50) scale(0.47,1)" x="0" y="0" font-family="Liberation Mono" font-weight="bold" font-size="12.8" fill="#1a1a1a" text-anchor="start" textLength="140.85" lengthAdjust="spacing" stroke="#1a1a1a" stroke-width="0.2">Oil level gauge</text></g>
<line x1="80.00" y1="502.20" x2="150.00" y2="502.20" stroke="#666" stroke-width="0.6" />
<line x1="150.00" y1="502.20" x2="160.50" y2="485.00" stroke="#666" stroke-width="0.6" />
<clipPath id="lc10"><rect x="194.00" y="300.00" width="103.00" height="16.90"/></clipPath>
<g clip-path="url(#lc10)"><text transform="translate(199.00,315.00) scale(0.47,1)" x="0" y="0" font-family="Liberation Mono" font-weight="bold" font-size="12.8" fill="#1a1a1a" text-anchor="start" textLength="197.87" lengthAdjust="spacing" stroke="#1a1a1a" stroke-width="0.2">Direction of rotation</text></g>
<line x1="198.00" y1="316.20" x2="292.50" y2="316.20" stroke="#666" stroke-width="0.6" />
<line x1="292.50" y1="316.20" x2="316.00" y2="360.00" stroke="#666" stroke-width="0.6" />
<polygon points="316,360 312,354.5 314.5,353.2" fill="#111"/>
<path d="M57.5,435.5 Q57,433.5 59.5,433 L64,431.5 L66,429.5 L77,427.3 L70,433" fill="none" stroke="#666" stroke-width="0.8"/>
<line x1="59.50" y1="433.60" x2="171.30" y2="486.50" stroke="#666" stroke-width="0.8" />
<line x1="57.50" y1="435.80" x2="162.00" y2="495.00" stroke="#666" stroke-width="0.8" />
<line x1="162.00" y1="495.00" x2="169.00" y2="498.00" stroke="#666" stroke-width="0.8" />
<line x1="70.00" y1="433.00" x2="92.00" y2="446.00" stroke="#666" stroke-width="0.6" />
<circle cx="79.50" cy="433.50" r="1.90" fill="none" stroke="#666" stroke-width="0.7"/>
<clipPath id="mclip"><path d="M80,357 L86,360 L89.5,372 L89.5,416 L84,420 L70,414 L58,405 L57,392 L58,376 L64,364 Z"/></clipPath>
<g clip-path="url(#mclip)">
<line x1="55.00" y1="350.00" x2="92.00" y2="366.50" stroke="#444" stroke-width="0.9" />
<line x1="55.00" y1="351.60" x2="92.00" y2="368.10" stroke="#aaa" stroke-width="0.5" />
<line x1="55.00" y1="354.30" x2="92.00" y2="370.80" stroke="#444" stroke-width="0.9" />
<line x1="55.00" y1="355.90" x2="92.00" y2="372.40" stroke="#aaa" stroke-width="0.5" />
<line x1="55.00" y1="358.60" x2="92.00" y2="375.10" stroke="#444" stroke-width="0.9" />
<line x1="55.00" y1="360.20" x2="92.00" y2="376.70" stroke="#aaa" stroke-width="0.5" />
<line x1="55.00" y1="362.90" x2="92.00" y2="379.40" stroke="#444" stroke-width="0.9" />
<line x1="55.00" y1="364.50" x2="92.00" y2="381.00" stroke="#aaa" stroke-width="0.5" />
<line x1="55.00" y1="367.20" x2="92.00" y2="383.70" stroke="#444" stroke-width="0.9" />
<line x1="55.00" y1="368.80" x2="92.00" y2="385.30" stroke="#aaa" stroke-width="0.5" />
<line x1="55.00" y1="371.50" x2="92.00" y2="388.00" stroke="#444" stroke-width="0.9" />
<line x1="55.00" y1="373.10" x2="92.00" y2="389.60" stroke="#aaa" stroke-width="0.5" />
<line x1="55.00" y1="375.80" x2="92.00" y2="392.30" stroke="#444" stroke-width="0.9" />
<line x1="55.00" y1="377.40" x2="92.00" y2="393.90" stroke="#aaa" stroke-width="0.5" />
<line x1="55.00" y1="380.10" x2="92.00" y2="396.60" stroke="#444" stroke-width="0.9" />
<line x1="55.00" y1="381.70" x2="92.00" y2="398.20" stroke="#aaa" stroke-width="0.5" />
<line x1="55.00" y1="384.40" x2="92.00" y2="400.90" stroke="#444" stroke-width="0.9" />
<line x1="55.00" y1="386.00" x2="92.00" y2="402.50" stroke="#aaa" stroke-width="0.5" />
<line x1="55.00" y1="388.70" x2="92.00" y2="405.20" stroke="#444" stroke-width="0.9" />
<line x1="55.00" y1="390.30" x2="92.00" y2="406.80" stroke="#aaa" stroke-width="0.5" />
<line x1="55.00" y1="393.00" x2="92.00" y2="409.50" stroke="#444" stroke-width="0.9" />
<line x1="55.00" y1="394.60" x2="92.00" y2="411.10" stroke="#aaa" stroke-width="0.5" />
<line x1="55.00" y1="397.30" x2="92.00" y2="413.80" stroke="#444" stroke-width="0.9" />
<line x1="55.00" y1="398.90" x2="92.00" y2="415.40" stroke="#aaa" stroke-width="0.5" />
<line x1="55.00" y1="401.60" x2="92.00" y2="418.10" stroke="#444" stroke-width="0.9" />
<line x1="55.00" y1="403.20" x2="92.00" y2="419.70" stroke="#aaa" stroke-width="0.5" />
<line x1="55.00" y1="405.90" x2="92.00" y2="422.40" stroke="#444" stroke-width="0.9" />
<line x1="55.00" y1="407.50" x2="92.00" y2="424.00" stroke="#aaa" stroke-width="0.5" />
<line x1="55.00" y1="410.20" x2="92.00" y2="426.70" stroke="#444" stroke-width="0.9" />
<line x1="55.00" y1="411.80" x2="92.00" y2="428.30" stroke="#aaa" stroke-width="0.5" />
<line x1="55.00" y1="414.50" x2="92.00" y2="431.00" stroke="#444" stroke-width="0.9" />
<line x1="55.00" y1="416.10" x2="92.00" y2="432.60" stroke="#aaa" stroke-width="0.5" />
</g>
<path d="M80,357 L86,360 L89.5,372 L89.5,416 L84,420 L70,414 L58,405" fill="none" stroke="#666" stroke-width="0.8"/>
<path d="M61,352 C45,355 37,370 40,383 C42,392 47,397 54,399 L58,404" fill="none" stroke="#666" stroke-width="0.8"/>
<path d="M61,352 Q69,350 76,352.5 L80,357" fill="none" stroke="#666" stroke-width="0.8"/>
<path d="M75,354 C60,357 50,366 48,378 C47,386 46,390 45,394" fill="none" stroke="#111" stroke-width="1.7"/>
<path d="M80,357 C66,360 58,370 58,382 C57,392 56,398 56,402" fill="none" stroke="#666" stroke-width="0.8"/>
<rect x="63.50" y="383.00" width="3.00" height="5.00" rx="0" fill="#fff" stroke="#666" stroke-width="0.7"/>
<rect x="76.00" y="389.00" width="3.00" height="5.00" rx="0" fill="#fff" stroke="#666" stroke-width="0.7"/>
<polyline points="74.40,365.70 74.40,371.00 92.80,383.00 112.20,370.00 112.20,364.60" fill="#fff" stroke="#666" stroke-width="0.8"/>
<polygon points="74.40,365.70 95.00,355.50 112.20,364.60 92.80,377.60" fill="#fff" stroke="#666" stroke-width="1.0"/>
<polyline points="74.40,371.00 92.80,383.00 112.20,370.00" fill="none" stroke="#444" stroke-width="1.4"/>
<polyline points="92.80,377.60 112.20,364.60" fill="none" stroke="#333" stroke-width="1.6"/>
<polyline points="74.40,365.70 92.80,377.60" fill="none" stroke="#555" stroke-width="1.0"/>
<line x1="92.80" y1="377.60" x2="92.80" y2="383.00" stroke="#333" stroke-width="0.9" />
<circle cx="78.70" cy="362.00" r="1.80" fill="#fff" stroke="#666" stroke-width="0.7"/>
<polyline points="89.70,378.70 89.70,446.50" fill="none" stroke="#666" stroke-width="0.8"/>
<polyline points="94.20,381.00 94.20,449.50" fill="none" stroke="#666" stroke-width="0.8"/>
<polyline points="89.70,378.70 133.50,356.50 141.50,353.00" fill="none" stroke="#666" stroke-width="0.8"/>
<line x1="94.20" y1="381.00" x2="137.00" y2="358.70" stroke="#666" stroke-width="0.7" />
<line x1="91.00" y1="400.00" x2="93.00" y2="400.00" stroke="#bbb" stroke-width="0.4" />
<line x1="91.00" y1="403.40" x2="93.00" y2="403.40" stroke="#bbb" stroke-width="0.4" />
<line x1="91.00" y1="406.80" x2="93.00" y2="406.80" stroke="#bbb" stroke-width="0.4" />
<line x1="91.00" y1="410.20" x2="93.00" y2="410.20" stroke="#bbb" stroke-width="0.4" />
<line x1="91.00" y1="413.60" x2="93.00" y2="413.60" stroke="#bbb" stroke-width="0.4" />
<line x1="91.00" y1="417.00" x2="93.00" y2="417.00" stroke="#bbb" stroke-width="0.4" />
<line x1="91.00" y1="420.40" x2="93.00" y2="420.40" stroke="#bbb" stroke-width="0.4" />
<line x1="91.00" y1="423.80" x2="93.00" y2="423.80" stroke="#bbb" stroke-width="0.4" />
<line x1="91.00" y1="427.20" x2="93.00" y2="427.20" stroke="#bbb" stroke-width="0.4" />
<line x1="91.00" y1="430.60" x2="93.00" y2="430.60" stroke="#bbb" stroke-width="0.4" />
<line x1="91.00" y1="434.00" x2="93.00" y2="434.00" stroke="#bbb" stroke-width="0.4" />
<line x1="91.00" y1="437.40" x2="93.00" y2="437.40" stroke="#bbb" stroke-width="0.4" />
<circle cx="101.30" cy="380.30" r="4.50" fill="none" stroke="#666" stroke-width="0.8"/>
<circle cx="101.30" cy="380.30" r="1.70" fill="none" stroke="#666" stroke-width="0.6"/>
<polygon points="94.20,382.00 135.00,357.00 160.50,371.50 116.00,397.00" fill="#fff" stroke="#666" stroke-width="0.8"/>
<circle cx="101.30" cy="380.30" r="4.30" fill="#fff" stroke="#666" stroke-width="0.8"/>
<circle cx="101.30" cy="380.30" r="1.80" fill="none" stroke="#666" stroke-width="0.6"/>
<path d="M115.7,372.3 Q116,368 124,365 L130,362.6 Q133,361.8 136,362.6 L142,365 Q149.5,368 149,372.3 Q149,376 141,379.5 L136,382.5 Q133,383.8 130,382.5 L124,379.5 Q115.5,376 115.7,372.3 Z" fill="none" stroke="#666" stroke-width="0.7"/>
<ellipse cx="132.50" cy="372.30" rx="9.20" ry="5.60" fill="none" stroke="#666" stroke-width="0.8" transform="rotate(0 132.50 372.30)"/>
<ellipse cx="132.50" cy="372.00" rx="7.60" ry="4.60" fill="none" stroke="#777" stroke-width="0.6" transform="rotate(0 132.50 372.00)"/>
<ellipse cx="132.40" cy="371.50" rx="6.30" ry="3.70" fill="#fff" stroke="#666" stroke-width="0.9" transform="rotate(0 132.40 371.50)"/>
<ellipse cx="132.40" cy="368.40" rx="6.30" ry="3.70" fill="#fff" stroke="#666" stroke-width="0.9" transform="rotate(0 132.40 368.40)"/>
<rect x="126.10" y="368.40" width="12.60" height="3.10" rx="0" fill="#fff" stroke="none" stroke-width="0"/>
<line x1="126.10" y1="368.40" x2="126.10" y2="371.50" stroke="#666" stroke-width="0.8" />
<line x1="138.70" y1="368.40" x2="138.70" y2="371.50" stroke="#666" stroke-width="0.8" />
<path d="M126.1,371.5 Q132.4,375.2 138.7,371.5" fill="none" stroke="#666" stroke-width="0.8"/>
<ellipse cx="117.80" cy="372.80" rx="1.90" ry="1.40" fill="#999" stroke="#444" stroke-width="0.6" transform="rotate(0 117.80 372.80)"/>
<ellipse cx="147.20" cy="372.80" rx="1.90" ry="1.40" fill="#999" stroke="#444" stroke-width="0.6" transform="rotate(0 147.20 372.80)"/>
<ellipse cx="132.50" cy="381.60" rx="1.90" ry="1.40" fill="#999" stroke="#444" stroke-width="0.6" transform="rotate(0 132.50 381.60)"/>
<ellipse cx="132.50" cy="363.60" rx="1.90" ry="1.40" fill="#999" stroke="#444" stroke-width="0.6" transform="rotate(0 132.50 363.60)"/>
<ellipse cx="139.00" cy="357.50" rx="3.60" ry="5.50" fill="#fff" stroke="#666" stroke-width="0.9" transform="rotate(0 139.00 357.50)"/>
<ellipse cx="139.00" cy="357.80" rx="1.60" ry="2.60" fill="none" stroke="#333" stroke-width="0.8" transform="rotate(0 139.00 357.80)"/>
<line x1="139.50" y1="360.00" x2="137.00" y2="365.00" stroke="#222" stroke-width="1.1" />
<ellipse cx="117.00" cy="384.50" rx="3.80" ry="2.60" fill="#555" stroke="#222" stroke-width="1.6" transform="rotate(0 117.00 384.50)"/>
<rect x="113.20" y="381.20" width="7.60" height="3.30" rx="0" fill="#444" stroke="none" stroke-width="0"/>
<line x1="113.20" y1="381.20" x2="113.20" y2="384.50" stroke="#222" stroke-width="1.6" />
<line x1="120.80" y1="381.20" x2="120.80" y2="384.50" stroke="#222" stroke-width="1.6" />
<ellipse cx="117.00" cy="381.20" rx="3.80" ry="2.60" fill="#fff" stroke="#222" stroke-width="1.4" transform="rotate(0 117.00 381.20)"/>
<ellipse cx="117.00" cy="381.20" rx="1.60" ry="1.00" fill="none" stroke="#666" stroke-width="0.6" transform="rotate(0 117.00 381.20)"/>
<line x1="116.50" y1="387.00" x2="113.00" y2="400.00" stroke="#222" stroke-width="0.9" />
<polyline points="116.00,397.20 160.50,371.50 209.00,400.00 213.00,404.00 174.00,428.50 168.00,429.80 116.00,401.00" fill="none" stroke="#666" stroke-width="0.9"/>
<polygon points="122.00,396.00 161.70,375.00 210.70,404.20 171.00,426.30" fill="none" stroke="#666" stroke-width="0.6"/>
<polyline points="116.00,401.00 116.00,405.00 168.00,433.50 174.00,432.50 213.00,408.00 213.00,404.00" fill="none" stroke="#666" stroke-width="0.8"/>
<polygon points="151,392 156.5,392.5 153,396" fill="#222"/>
<ellipse cx="168.00" cy="413.50" rx="7.00" ry="4.20" fill="#fff" stroke="#666" stroke-width="0.9" transform="rotate(0 168.00 413.50)"/>
<rect x="161.00" y="409.00" width="14.00" height="4.50" rx="0" fill="#fff" stroke="#666" stroke-width="0"/>
<line x1="161.00" y1="409.00" x2="161.00" y2="413.50" stroke="#666" stroke-width="0.9" />
<line x1="175.00" y1="409.00" x2="175.00" y2="413.50" stroke="#666" stroke-width="0.9" />
<ellipse cx="168.00" cy="409.00" rx="7.00" ry="4.20" fill="#fff" stroke="#666" stroke-width="0.9" transform="rotate(0 168.00 409.00)"/>
<line x1="161.00" y1="411.50" x2="175.00" y2="411.50" stroke="#666" stroke-width="0.5" />
<line x1="165.00" y1="406.00" x2="171.00" y2="400.00" stroke="#222" stroke-width="1.0" />
<line x1="157.00" y1="405.00" x2="161.00" y2="408.00" stroke="#666" stroke-width="0.6" />
<ellipse cx="194.50" cy="404.00" rx="4.30" ry="3.00" fill="#fff" stroke="#666" stroke-width="0.9" transform="rotate(0 194.50 404.00)"/>
<line x1="191.00" y1="405.00" x2="197.00" y2="402.00" stroke="#666" stroke-width="0.7" />
<line x1="189.00" y1="402.50" x2="193.00" y2="402.00" stroke="#666" stroke-width="0.6" />
<polygon points="115.30,401.00 115.30,461.00 172.00,491.00 209.50,467.00 211.00,407.00 168.00,430.00" fill="#fff" stroke="none" stroke-width="0"/>
<line x1="115.30" y1="401.00" x2="115.30" y2="461.00" stroke="#666" stroke-width="0.9" />
<line x1="172.00" y1="436.00" x2="172.00" y2="486.00" stroke="#666" stroke-width="0.8" />
<line x1="115.30" y1="461.00" x2="172.00" y2="491.00" stroke="#666" stroke-width="0.8" />
<line x1="116.00" y1="410.00" x2="171.00" y2="439.00" stroke="#444" stroke-width="1.0" />
<line x1="116.00" y1="412.40" x2="171.00" y2="441.40" stroke="#777" stroke-width="0.8" />
<path d="M170,438.7 Q177,440.6 170.5,442.8" fill="none" stroke="#444" stroke-width="0.9"/>
<line x1="116.00" y1="416.20" x2="171.00" y2="445.20" stroke="#444" stroke-width="1.0" />
<line x1="116.00" y1="418.60" x2="171.00" y2="447.60" stroke="#777" stroke-width="0.8" />
<path d="M170,444.9 Q177,446.8 170.5,449.0" fill="none" stroke="#444" stroke-width="0.9"/>
<line x1="116.00" y1="422.40" x2="171.00" y2="451.40" stroke="#444" stroke-width="1.0" />
<line x1="116.00" y1="424.80" x2="171.00" y2="453.80" stroke="#777" stroke-width="0.8" />
<path d="M170,451.1 Q177,453.0 170.5,455.2" fill="none" stroke="#444" stroke-width="0.9"/>
<line x1="116.00" y1="428.60" x2="171.00" y2="457.60" stroke="#444" stroke-width="1.0" />
<line x1="116.00" y1="431.00" x2="171.00" y2="460.00" stroke="#777" stroke-width="0.8" />
<path d="M170,457.3 Q177,459.2 170.5,461.4" fill="none" stroke="#444" stroke-width="0.9"/>
<line x1="116.00" y1="434.80" x2="171.00" y2="463.80" stroke="#444" stroke-width="1.0" />
<line x1="116.00" y1="437.20" x2="171.00" y2="466.20" stroke="#777" stroke-width="0.8" />
<path d="M170,463.5 Q177,465.4 170.5,467.6" fill="none" stroke="#444" stroke-width="0.9"/>
<line x1="116.00" y1="441.00" x2="171.00" y2="470.00" stroke="#444" stroke-width="1.0" />
<line x1="116.00" y1="443.40" x2="171.00" y2="472.40" stroke="#777" stroke-width="0.8" />
<path d="M170,469.7 Q177,471.6 170.5,473.8" fill="none" stroke="#444" stroke-width="0.9"/>
<line x1="116.00" y1="447.20" x2="171.00" y2="476.20" stroke="#444" stroke-width="1.0" />
<line x1="116.00" y1="449.60" x2="171.00" y2="478.60" stroke="#777" stroke-width="0.8" />
<path d="M170,475.9 Q177,477.8 170.5,480.0" fill="none" stroke="#444" stroke-width="0.9"/>
<line x1="116.00" y1="453.40" x2="171.00" y2="482.40" stroke="#444" stroke-width="1.0" />
<line x1="116.00" y1="455.80" x2="171.00" y2="484.80" stroke="#777" stroke-width="0.8" />
<path d="M170,482.1 Q177,484.0 170.5,486.2" fill="none" stroke="#444" stroke-width="0.9"/>
<line x1="116.00" y1="459.60" x2="171.00" y2="488.60" stroke="#444" stroke-width="1.0" />
<line x1="116.00" y1="462.00" x2="171.00" y2="491.00" stroke="#777" stroke-width="0.8" />
<path d="M170,488.3 Q177,490.2 170.5,492.4" fill="none" stroke="#444" stroke-width="0.9"/>
<line x1="118.00" y1="414.30" x2="123.40" y2="412.30" stroke="#333" stroke-width="0.7" />
<circle cx="123.40" cy="412.30" r="0.90" fill="#222" stroke="#222" stroke-width="0.3"/>
<line x1="118.00" y1="436.40" x2="123.40" y2="434.40" stroke="#333" stroke-width="0.7" />
<circle cx="123.40" cy="434.40" r="0.90" fill="#222" stroke="#222" stroke-width="0.3"/>
<line x1="118.00" y1="459.00" x2="123.40" y2="457.00" stroke="#333" stroke-width="0.7" />
<circle cx="123.40" cy="457.00" r="0.90" fill="#222" stroke="#222" stroke-width="0.3"/>
<rect x="119.00" y="404.50" width="2.00" height="2.00" rx="0" fill="#222" stroke="#666" stroke-width="0"/>
<text x="152" y="424.5" font-family="Liberation Sans" font-size="3.6" font-weight="bold" fill="#222" transform="rotate(28 152 424.5)" textLength="14" lengthAdjust="spacingAndGlyphs">RAGO VACUUM</text>
<line x1="209.50" y1="410.00" x2="209.50" y2="467.00" stroke="#666" stroke-width="0.9" />
<line x1="172.00" y1="486.00" x2="209.50" y2="467.00" stroke="#666" stroke-width="0.8" />
<polygon points="184.00,436.00 205.30,425.30 205.30,454.00 184.00,466.70" fill="none" stroke="#666" stroke-width="0.8"/>
<polygon points="174.70,441.30 182.00,438.70 182.00,468.00 174.70,471.30" fill="none" stroke="#333" stroke-width="1.1"/>
<polygon points="176.50,443.00 180.20,441.50 180.20,466.50 176.50,469.00" fill="none" stroke="#555" stroke-width="0.9"/>
<line x1="175.00" y1="469.00" x2="171.00" y2="474.00" stroke="#222" stroke-width="1.0" />
<path d="M209.5,412.0 Q213.5,413.8 209.5,415.8" fill="none" stroke="#555" stroke-width="0.8"/>
<path d="M209.5,418.4 Q213.5,420.2 209.5,422.2" fill="none" stroke="#555" stroke-width="0.8"/>
<path d="M209.5,424.8 Q213.5,426.6 209.5,428.6" fill="none" stroke="#555" stroke-width="0.8"/>
<path d="M209.5,431.2 Q213.5,433.0 209.5,435.0" fill="none" stroke="#555" stroke-width="0.8"/>
<path d="M209.5,437.6 Q213.5,439.4 209.5,441.4" fill="none" stroke="#555" stroke-width="0.8"/>
<path d="M209.5,444.0 Q213.5,445.8 209.5,447.8" fill="none" stroke="#555" stroke-width="0.8"/>
<path d="M209.5,450.4 Q213.5,452.2 209.5,454.2" fill="none" stroke="#555" stroke-width="0.8"/>
<path d="M209.5,456.8 Q213.5,458.6 209.5,460.6" fill="none" stroke="#555" stroke-width="0.8"/>
<path d="M209.5,463.2 Q213.5,465.0 209.5,467.0" fill="none" stroke="#555" stroke-width="0.8"/>
<polyline points="159.30,485.30 167.30,497.30 178.00,492.70 174.00,489.00 168.00,492.00 163.00,484.00" fill="none" stroke="#666" stroke-width="0.7"/>
<polyline points="191.30,470.70 196.70,469.30 212.70,469.30 208.70,472.70 202.70,473.30 204.00,477.30 196.00,479.00" fill="none" stroke="#666" stroke-width="0.7"/>
<line x1="182.00" y1="478.00" x2="190.00" y2="474.00" stroke="#666" stroke-width="0.6" />
<circle cx="190.50" cy="473.30" r="1.30" fill="none" stroke="#666" stroke-width="0.6"/>
<line x1="192.00" y1="474.00" x2="197.50" y2="478.70" stroke="#222" stroke-width="1.0" />
</svg></body></html>
